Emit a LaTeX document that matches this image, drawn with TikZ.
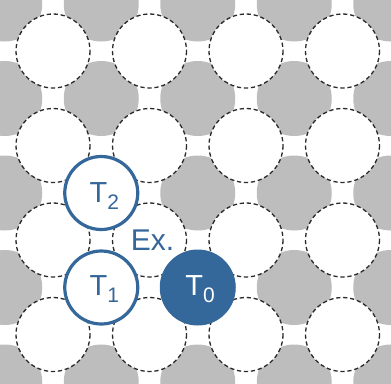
\documentclass[tikz,border=0pt]{standalone}
\usepackage{fontspec}
\setmainfont{Liberation Sans}
\definecolor{tblue}{HTML}{34679A}
\definecolor{lgray}{HTML}{BDBDBD}
\definecolor{dline}{HTML}{2A2A2A}
\tikzset{
  graydisk/.style={fill=lgray},
  sitecirc/.style={draw=dline, fill=white, line width=1.3pt, dash pattern=on 4.2pt off 2.8pt},
  tring/.style={circle, draw=tblue, fill=white, line width=3.2pt, minimum size=73pt, inner sep=0pt},
  tfull/.style={circle, draw=tblue, fill=tblue, line width=1pt, minimum size=75pt, inner sep=0pt},
  tlab/.style={anchor=base west, inner sep=0pt, font=\fontsize{29}{29}\selectfont},
}
\newcommand{\tsub}[1]{\raisebox{-7pt}{\fontsize{21}{21}\selectfont #1}}
\begin{document}
\begin{tikzpicture}[x=1pt,y=-1pt]
\useasboundingbox (0,0) rectangle (391,383);
\clip (0,0) rectangle (391,383);
% gray disks on the offset lattice
\foreach \gx in {4.75,101.25,197.75,294.25,390.75}{
  \foreach \gy in {4,98.5,193,287.5,382}{
    \fill[graydisk] (\gx,\gy) circle (37.5);
  }
}
% dashed white sites
\foreach \sx in {53,149.5,246,342.5}{
  \foreach \sy in {51,145.5,240,334.5}{
    \draw[sitecirc] (\sx,\sy) circle (37);
  }
}
% T sites
\node[tring] (t2) at (101.25,193) {};
\node[tring] (t1) at (101.25,287.5) {};
\node[tfull] (t0) at (197.75,287.5) {};
\node[tlab, text=tblue] (t2l) at (89.5,202) {T\tsub{2}};
\node[tlab, text=tblue] (t1l) at (89.5,295) {T\tsub{1}};
\node[tlab, text=white] (t0l) at (185.2,295) {T\tsub{0}};
\node[tlab, text=tblue, font=\fontsize{30}{30}\selectfont] (ex) at (130.6,250) {Ex.};
\end{tikzpicture}
\end{document}
